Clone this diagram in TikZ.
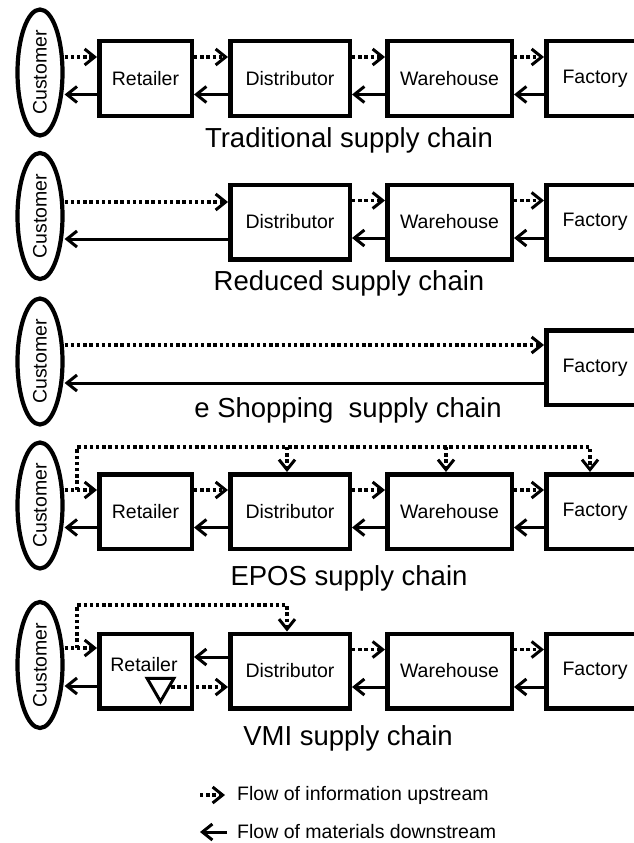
\documentclass[tikz,border=0pt]{standalone}
\usepackage{fontspec}
\setmainfont{Liberation Sans}
\usetikzlibrary{arrows.meta,calc,shapes.geometric}
\newcommand\sclink[2]{%
  \draw[info] ($(#1.east)+(0,-21.5)$) -- ($(#2.west)+(0,-21.5)$);
  \draw[mat] ($(#2.west)+(0,16)$) -- ($(#1.east)+(0,16)$);}
\begin{document}
\begin{tikzpicture}[x=1pt,y=-1pt,
  box/.style={draw, line width=4.5pt, minimum height=74.5pt, inner sep=0pt, font=\fontsize{19.5}{22}\selectfont},
  cust/.style={draw, ellipse, line width=4.2pt, minimum width=45pt, minimum height=126pt, inner sep=0pt, font=\fontsize{19.5}{22}\selectfont},
  info/.style={line width=3.4pt, dash pattern=on 3.4pt off 2.8pt, -{Straight Barb[length=10pt,width=16pt,line width=3pt]}},
  mat/.style={line width=3pt, -{Straight Barb[length=10pt,width=16pt,line width=3pt]}},
  title/.style={font=\fontsize{27.5}{30}\selectfont, inner sep=0pt},
  legend/.style={font=\fontsize{19.5}{22}\selectfont, inner sep=0pt, anchor=west},
  tri/.style={draw, regular polygon, regular polygon sides=3, shape border rotate=180, line width=3pt, minimum size=31pt, inner sep=0pt}
]
\useasboundingbox (0,0) rectangle (633,843);

% ---------- Row 1: Traditional ----------
\node[cust] (c1) at (40,72.5) {\rotatebox{90}{Customer}};
\node[box, minimum width=92.5pt] (r1) at (145.5,78.5) {Retailer};
\node[box, minimum width=119.5pt] (d1) at (290,78.5) {Distributor};
\node[box, minimum width=124.5pt] (w1) at (449.5,78.5) {Warehouse};
\node[box, minimum width=97.5pt] (f1) at (595,78.5) {Factory};
\coordinate (r1i) at ($(r1.west)+(0,-21.5)$);
\coordinate (r1m) at ($(r1.west)+(0,16)$);
\draw[info] (c1.east |- r1i) -- (r1i);
\draw[mat] (r1m) -- (c1.east |- r1m);
\sclink{r1}{d1}
\sclink{d1}{w1}
\sclink{w1}{f1}
\node[title] (t1) at (349,140) {Traditional supply chain};

% ---------- Row 2: Reduced ----------
\node[cust] (c2) at (40,216) {\rotatebox{90}{Customer}};
\node[box, minimum width=119.5pt] (d2) at (290,222) {Distributor};
\node[box, minimum width=124.5pt] (w2) at (449.5,222) {Warehouse};
\node[box, minimum width=97.5pt] (f2) at (595,222) {Factory};
\coordinate (d2i) at ($(d2.west)+(0,-20)$);
\coordinate (d2m) at ($(d2.west)+(0,17)$);
\draw[info] (c2.east |- d2i) -- (d2i);
\draw[mat] (d2m) -- (c2.east |- d2m);
\sclink{d2}{w2}
\sclink{w2}{f2}
\node[title] (t2) at (349,283) {Reduced supply chain};

% ---------- Row 3: e Shopping ----------
\node[cust] (c3) at (40,361.5) {\rotatebox{90}{Customer}};
\node[box, minimum width=97.5pt] (f3) at (595,367.5) {Factory};
\coordinate (f3i) at ($(f3.west)+(0,-22.5)$);
\coordinate (f3m) at ($(f3.west)+(0,15.5)$);
\draw[info] (c3.east |- f3i) -- (f3i);
\draw[mat] (f3m) -- (c3.east |- f3m);
\node[title] (t3) at (348,410) {e Shopping\ \ supply chain};

% ---------- Row 4: EPOS ----------
\node[cust] (c4) at (40,505.5) {\rotatebox{90}{Customer}};
\node[box, minimum width=92.5pt] (r4) at (145.5,511.5) {Retailer};
\node[box, minimum width=119.5pt] (d4) at (290,511.5) {Distributor};
\node[box, minimum width=124.5pt] (w4) at (449.5,511.5) {Warehouse};
\node[box, minimum width=97.5pt] (f4) at (595,511.5) {Factory};
\coordinate (r4i) at ($(r4.west)+(0,-21.5)$);
\coordinate (r4m) at ($(r4.west)+(0,16)$);
\draw[info] (c4.east |- r4i) -- (r4i);
\draw[mat] (r4m) -- (c4.east |- r4m);
\sclink{r4}{d4}
\sclink{d4}{w4}
\sclink{w4}{f4}
\coordinate (s4) at ($(r4i)+(-20,0)$);
\coordinate (top4) at ($(s4)+(0,-43)$);
\coordinate (ka) at ($(d4.north)+(-3,0)$);
\coordinate (kb) at ($(w4.north)+(-3.5,0)$);
\coordinate (kc) at ($(f4.north)+(-5,0)$);
\draw[info] (s4) |- (kc |- top4) -- (kc);
\draw[info] (ka |- top4) -- (ka);
\draw[info] (kb |- top4) -- (kb);
\node[title] (t4) at (349,578) {EPOS supply chain};

% ---------- Row 5: VMI ----------
\node[cust] (c5) at (40,665) {\rotatebox{90}{Customer}};
\node[box, minimum width=92.5pt] (r5) at (145.5,671) {};
\node[font=\fontsize{19.5}{22}\selectfont, inner sep=0pt] (r5t) at (144,665) {Retailer};
\node[tri] (inv) at (160.5,686) {};
\node[box, minimum width=119.5pt] (d5) at (290,671) {Distributor};
\node[box, minimum width=124.5pt] (w5) at (449.5,671) {Warehouse};
\node[box, minimum width=97.5pt] (f5) at (595,671) {Factory};
\coordinate (r5i) at ($(r5.west)+(0,-23)$);
\coordinate (r5m) at ($(r5.west)+(0,15)$);
\draw[info] (c5.east |- r5i) -- (r5i);
\draw[mat] (r5m) -- (c5.east |- r5m);
\coordinate (d5m) at ($(d5.west)+(0,-14)$);
\draw[mat] (d5m) -- (r5.east |- d5m);
\coordinate (d5i) at ($(d5.west)+(0,16)$);
\draw[info] (inv.east |- d5i) -- (d5i);
\sclink{d5}{w5}
\sclink{w5}{f5}
\coordinate (s5) at ($(r5i)+(-20,0)$);
\coordinate (top5) at ($(s5)+(0,-43)$);
\coordinate (kd) at ($(d5.north)+(-3,0)$);
\draw[info] (s5) |- (kd |- top5) -- (kd);
\node[title] (t5) at (348,738) {VMI supply chain};

% ---------- Legend ----------
\coordinate (l1a) at (200,795);
\coordinate (l1b) at (225,795);
\node[legend] (l1t) at (237,795) {Flow of information upstream};
\draw[info] (l1a) -- (l1b);
\coordinate (l2a) at (227,832);
\coordinate (l2b) at (200,832);
\node[legend] (l2t) at (237,832) {Flow of materials downstream};
\draw[mat] (l2a) -- (l2b);
\end{tikzpicture}
\end{document}
